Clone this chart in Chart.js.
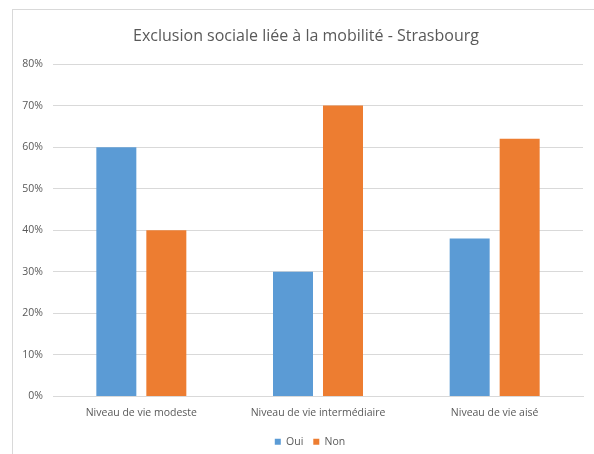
<!DOCTYPE html>
<html>
<head>
<meta charset="utf-8">
<script src="https://cdn.jsdelivr.net/npm/chart.js@4/dist/chart.umd.min.js"></script>
<style>
  html, body { margin: 0; padding: 0; background: #fff; overflow: hidden; }
  #frame {
    position: absolute; left: 12px; top: 9px; width: 620px; height: 480px;
    border: 1px solid #d9d9d9; background: #fff;
  }
  #wrap { position: absolute; left: 0; top: 0; width: 594px; height: 457px; }
</style>
</head>
<body>
<div id="frame"></div>
<div id="wrap"><canvas id="myChart"></canvas></div>
<script>
var categories = ['Niveau de vie modeste', 'Niveau de vie intermédiaire', 'Niveau de vie aisé'];
var oui = [60, 30, 38];
var non = [40, 70, 62];
var yTicks = [0, 10, 20, 30, 40, 50, 60, 70, 80];

var textColor = '#595959';
var fontName = "'Open Sans', sans-serif";

// title and legend sit a little right of the canvas centre
var nudgeBlocks = {
  id: 'nudgeBlocks',
  afterLayout: function(chart) {
    if (chart.titleBlock) chart.titleBlock.left += 29;
    if (chart.legend) chart.legend.left += 37;
  }
};

var ctx = document.getElementById('myChart').getContext('2d');
var myChart = new Chart(ctx, {
  type: 'bar',
  data: {
    labels: categories,
    datasets: [{
      label: 'Oui',
      backgroundColor: '#5b9bd5',
      data: oui
    }, {
      label: 'Non',
      backgroundColor: '#ed7d31',
      data: non
    }]
  },
  plugins: [nudgeBlocks],
  options: {
    responsive: true,
    maintainAspectRatio: false,
    animation: false,
    layout: { padding: { top: 9, right: 11, bottom: 0, left: 0 } },
    datasets: {
      bar: { categoryPercentage: 0.566, barPercentage: 0.8 }
    },
    plugins: {
      title: {
        display: true,
        text: 'Exclusion sociale liée à la mobilité - Strasbourg',
        color: textColor,
        font: { family: fontName, size: 16, weight: 'normal' },
        padding: { top: 17.7, bottom: 18.1 }
      },
      legend: {
        position: 'bottom',
        labels: {
          color: textColor,
          font: { family: fontName, size: 10.5 },
          boxWidth: 6,
          boxHeight: 6,
          padding: 10
        }
      },
      tooltip: { enabled: false }
    },
    scales: {
      x: {
        afterFit: function(scale) { scale.height = 30; },
        grid: { display: false, drawTicks: false },
        border: { display: true, color: '#d9d9d9' },
        ticks: { color: textColor, font: { family: fontName, size: 10.5 }, padding: 10, maxRotation: 0 }
      },
      y: {
        min: 0,
        max: 80,
        afterFit: function(scale) { scale.width = 53; },
        afterBuildTicks: function(scale) {
          scale.ticks = yTicks.map(function(v) { return { value: v }; });
        },
        grid: { color: '#d9d9d9', drawTicks: false },
        border: { display: false },
        ticks: {
          color: textColor,
          font: { family: fontName, size: 10.5 },
          padding: 10,
          callback: function(v) { return v + '%'; }
        }
      }
    }
  }
});
</script>
</body>
</html>
